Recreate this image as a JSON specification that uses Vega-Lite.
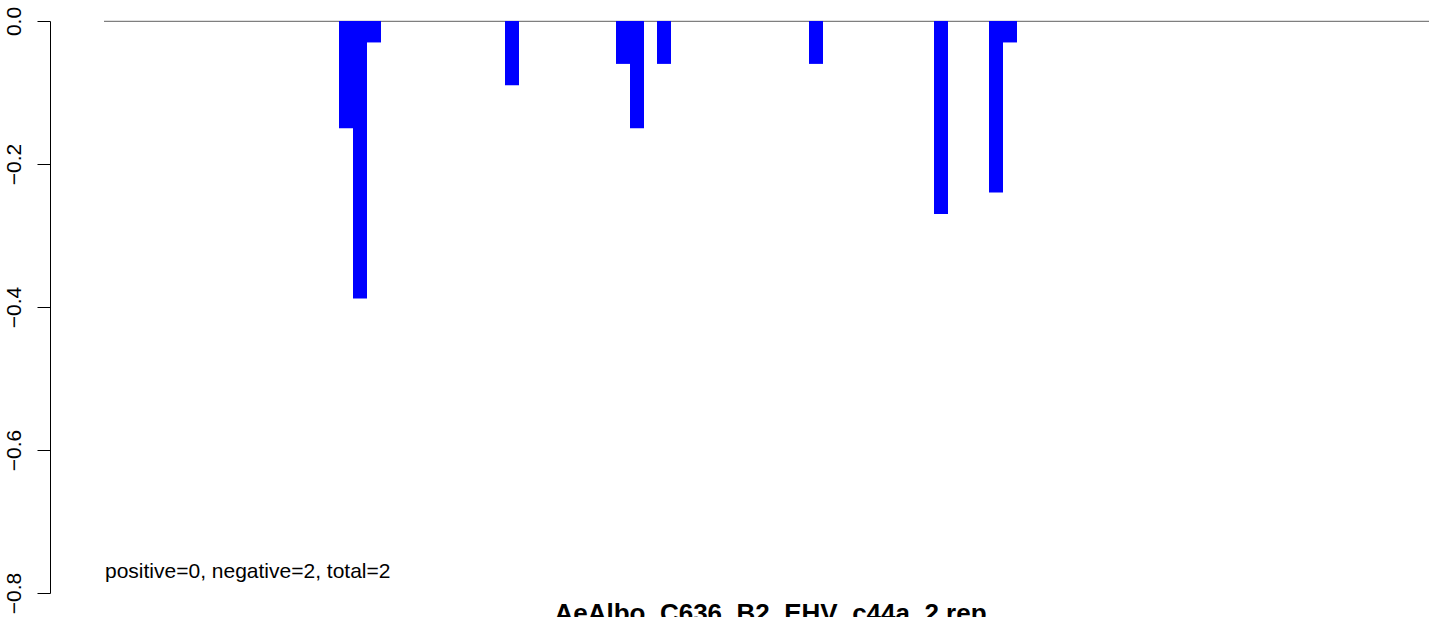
{
  "$schema": "https://vega.github.io/schema/vega-lite/v6.json",
  "autosize": "none",
  "width": 1379,
  "height": 572,
  "padding": {"left": 50, "top": 21, "right": 0, "bottom": 24},
  "background": "white",
  "config": {"view": {"stroke": null}, "font": "Liberation Sans"},
  "datasets": {
    "bars": [
      {"start": 289, "end": 303, "value": -0.15},
      {"start": 303, "end": 317, "value": -0.388},
      {"start": 317, "end": 331, "value": -0.03},
      {"start": 455, "end": 469, "value": -0.09},
      {"start": 566, "end": 580, "value": -0.06},
      {"start": 580, "end": 594, "value": -0.15},
      {"start": 607, "end": 621, "value": -0.06},
      {"start": 759, "end": 773, "value": -0.06},
      {"start": 884, "end": 898, "value": -0.27},
      {"start": 939, "end": 953, "value": -0.24},
      {"start": 953, "end": 967, "value": -0.03}
    ],
    "baseline": [{"from": 54, "to": 1379, "level": 0}],
    "labels": [
      {"pos": 55, "level": -0.779, "label": "positive=0, negative=2, total=2", "kind": "note"},
      {"pos": 720.5, "level": -0.8406, "label": "AeAlbo_C636_B2_EHV_c44a_2 rep", "kind": "title"}
    ]
  },
  "layer": [
    {
      "data": {"name": "baseline"},
      "mark": {"type": "rule", "color": "#606060", "strokeWidth": 1, "yOffset": 0.3},
      "encoding": {
        "x": {"field": "from", "type": "quantitative", "scale": {"domain": [0, 1379], "nice": false, "zero": false}, "axis": null},
        "x2": {"field": "to"},
        "y": {"field": "level", "type": "quantitative"}
      }
    },
    {
      "data": {"name": "bars"},
      "mark": {"type": "rect", "color": "#0000FF"},
      "encoding": {
        "x": {"field": "start", "type": "quantitative", "scale": {"domain": [0, 1379], "nice": false, "zero": false}, "axis": null},
        "x2": {"field": "end"},
        "y": {
          "field": "value", "type": "quantitative",
          "scale": {"domain": [-0.8, 0], "nice": false, "zero": false},
          "axis": {
            "title": null, "grid": false,
            "values": [0, -0.2, -0.4, -0.6, -0.8],
            "format": ".1f",
            "domainColor": "black", "domainWidth": 1,
            "tickColor": "black", "tickWidth": 1, "tickSize": 13,
            "labelAngle": -90, "labelAlign": "center", "labelBaseline": "alphabetic",
            "labelPadding": 17, "labelFontSize": 21, "labelColor": "black",
            "labelFont": "Liberation Sans", "labelOverlap": false
          }
        },
        "y2": {"datum": 0}
      }
    },
    {
      "data": {"name": "labels"},
      "transform": [{"filter": "datum.kind === 'note'"}],
      "mark": {"type": "text", "align": "left", "baseline": "alphabetic", "fontSize": 21, "font": "Liberation Sans", "color": "black"},
      "encoding": {
        "x": {"field": "pos", "type": "quantitative"},
        "y": {"field": "level", "type": "quantitative"},
        "text": {"field": "label"}
      }
    },
    {
      "data": {"name": "labels"},
      "transform": [{"filter": "datum.kind === 'title'"}],
      "mark": {"type": "text", "align": "center", "baseline": "alphabetic", "fontSize": 26, "fontWeight": "bold", "font": "Liberation Sans", "color": "black"},
      "encoding": {
        "x": {"field": "pos", "type": "quantitative"},
        "y": {"field": "level", "type": "quantitative"},
        "text": {"field": "label"}
      }
    }
  ]
}
